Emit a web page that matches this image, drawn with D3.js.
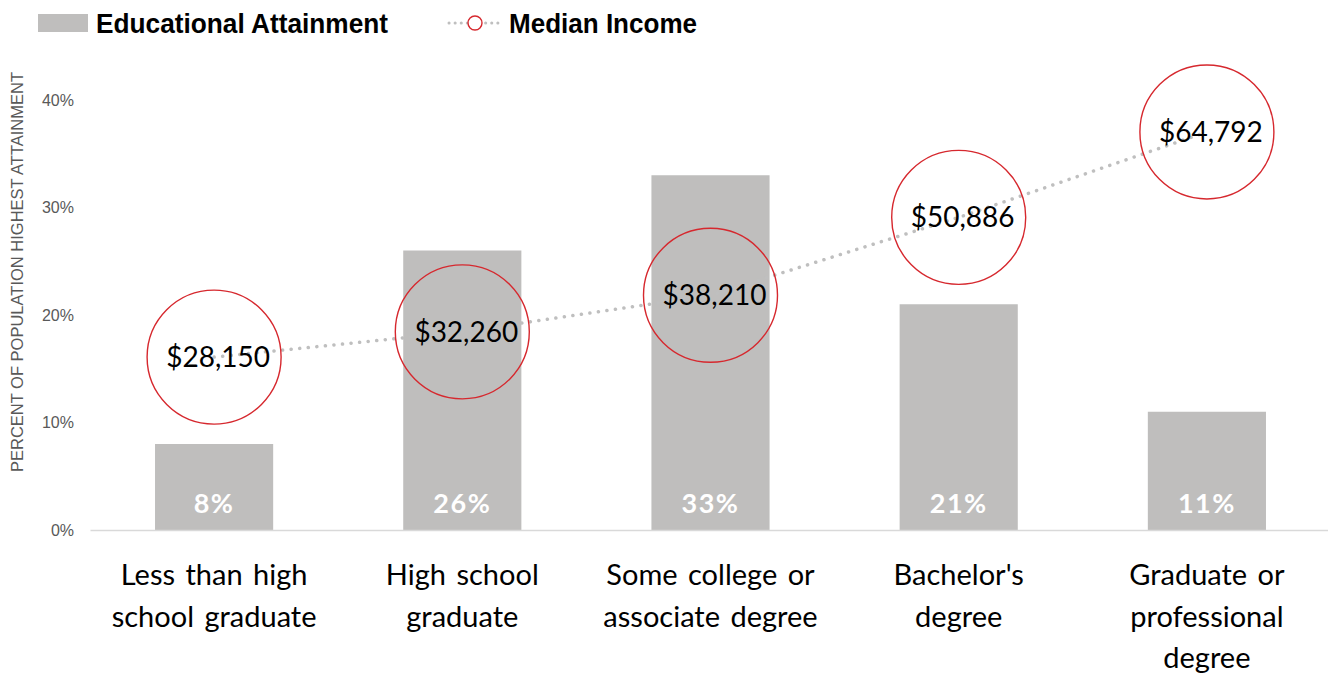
<!DOCTYPE html>
<html>
<head>
<meta charset="utf-8">
<script src="https://cdn.jsdelivr.net/npm/d3@7"></script>
<style>
  html, body { margin: 0; padding: 0; background: #fff; }
  svg { display: block; }
</style>
</head>
<body>
<svg id="chart" width="1328" height="675"></svg>
<script>
const categories = [
  ["Less than high", "school graduate"],
  ["High school", "graduate"],
  ["Some college or", "associate degree"],
  ["Bachelor's", "degree"],
  ["Graduate or", "professional", "degree"]
];
const attainment = [8, 26, 33, 21, 11];
const income = [28150, 32260, 38210, 50886, 64792];
const yTicks = [0, 10, 20, 30, 40];

const svg = d3.select("#chart");
const plotBottom = 530, plotTop = 100;

const x = d3.scaleBand()
  .domain(d3.range(categories.length))
  .range([90, 1331])
  .paddingInner(0.524)
  .paddingOuter(0.262);

const y = d3.scaleLinear().domain([0, 40]).range([plotBottom, plotTop]);
const y2 = d3.scaleLinear().domain([0, 70000]).range([plotBottom, plotTop]);

const axisFont = "'Liberation Sans', Arial, sans-serif";

// Y axis tick labels
const yAxis = d3.axisLeft(y).tickValues(yTicks).tickFormat(d => d + "%").tickSize(0).tickPadding(0);
const gy = svg.append("g").attr("transform", "translate(74,0)").call(yAxis);
gy.select(".domain").remove();
gy.selectAll("text")
  .attr("font-family", axisFont)
  .attr("font-size", 16)
  .attr("fill", "#595959");

// Y axis title
svg.append("text")
  .attr("transform", `translate(23,272) rotate(-90)`)
  .attr("text-anchor", "middle")
  .attr("font-family", axisFont)
  .attr("font-size", 16.5)
  .attr("fill", "#595959")
  .text("PERCENT OF POPULATION HIGHEST ATTAINMENT");

// Bars
svg.append("g").selectAll("rect")
  .data(attainment)
  .join("rect")
  .attr("x", (d, i) => x(i))
  .attr("width", x.bandwidth())
  .attr("y", d => y(d))
  .attr("height", d => y(0) - y(d))
  .attr("fill", "#bfbebd");

// Baseline axis
const xAxis = d3.axisBottom(x).tickSize(0).tickFormat("");
const gx = svg.append("g").attr("transform", `translate(0,${plotBottom})`).call(xAxis);
gx.select(".domain").attr("stroke", "#d9d9d9").attr("stroke-width", 1.5);

// Bar value labels
svg.append("g").selectAll("text")
  .data(attainment)
  .join("text")
  .attr("x", (d, i) => x(i) + x.bandwidth() / 2)
  .attr("y", plotBottom - 17)
  .attr("text-anchor", "middle")
  .attr("font-family", "Lato, 'Noto Sans', sans-serif")
  .attr("font-weight", "bold")
  .attr("font-size", 27)
  .attr("letter-spacing", 1.5)
  .attr("fill", "#ffffff")
  .text(d => d + "%");

// Category labels
const catG = svg.append("g").selectAll("text")
  .data(categories)
  .join("text")
  .attr("x", (d, i) => x(i) + x.bandwidth() / 2)
  .attr("y", 585)
  .attr("text-anchor", "middle")
  .attr("font-family", "Lato, 'Noto Sans', sans-serif")
  .attr("font-size", 29)
  .attr("word-spacing", 3)
  .attr("fill", "#000");
catG.selectAll("tspan")
  .data(d => d)
  .join("tspan")
  .attr("x", function () { return d3.select(this.parentNode).attr("x"); })
  .attr("dy", (d, j) => j === 0 ? 0 : 41.5)
  .text(d => d);

// Income dotted line
const cx = i => x(i) + x.bandwidth() / 2;
const line = d3.line().x((d, i) => cx(i)).y(d => y2(d));
svg.append("path")
  .datum(income)
  .attr("d", line)
  .attr("fill", "none")
  .attr("stroke", "#bfbfbf")
  .attr("stroke-width", 3.5)
  .attr("stroke-linecap", "round")
  .attr("stroke-dasharray", "0.1 8.5");

// Income circles
svg.append("g").selectAll("circle")
  .data(income)
  .join("circle")
  .attr("cx", (d, i) => cx(i))
  .attr("cy", d => y2(d))
  .attr("r", 67)
  .attr("fill", "none")
  .attr("stroke", "#d6282e")
  .attr("stroke-width", 1.4);

// Income labels
svg.append("g").selectAll("text")
  .data(income)
  .join("text")
  .attr("x", (d, i) => cx(i) + 4)
  .attr("y", d => y2(d) + 10)
  .attr("text-anchor", "middle")
  .attr("font-family", "Lato, 'Noto Sans', sans-serif")
  .attr("font-size", 28)
  .attr("fill", "#000")
  .text(d => "$" + d3.format(",")(d));

// Legend
const lg = svg.append("g");
lg.append("rect").attr("x", 38).attr("y", 14).attr("width", 50).attr("height", 18).attr("fill", "#bfbebd");
lg.append("text").attr("x", 96).attr("y", 33)
  .attr("font-family", axisFont).attr("font-weight", "bold").attr("font-size", 27)
  .attr("textLength", 292).attr("lengthAdjust", "spacingAndGlyphs")
  .attr("fill", "#000").text("Educational Attainment");
lg.append("line").attr("x1", 449).attr("x2", 501).attr("y1", 23).attr("y2", 23)
  .attr("stroke", "#bfbfbf").attr("stroke-width", 3).attr("stroke-linecap", "round")
  .attr("stroke-dasharray", "0.1 6");
lg.append("circle").attr("cx", 475).attr("cy", 23).attr("r", 7)
  .attr("fill", "#fff").attr("stroke", "#d6282e").attr("stroke-width", 1.4);
lg.append("text").attr("x", 509).attr("y", 33)
  .attr("font-family", axisFont).attr("font-weight", "bold").attr("font-size", 27)
  .attr("textLength", 188).attr("lengthAdjust", "spacingAndGlyphs")
  .attr("fill", "#000").text("Median Income");
</script>
</body>
</html>
